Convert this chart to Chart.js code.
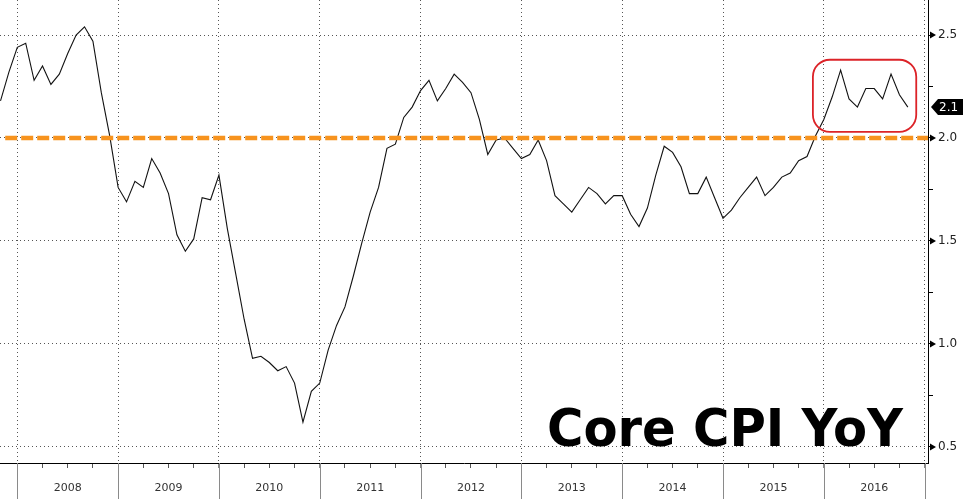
<!DOCTYPE html>
<html>
<head>
<meta charset="utf-8">
<script src="https://cdn.jsdelivr.net/npm/chart.js@4.4.0/dist/chart.umd.min.js"></script>
<style>
  html, body { margin: 0; padding: 0; background: #fff; }
  #wrap { width: 963px; height: 499px; }
</style>
</head>
<body>
<div id="wrap"><canvas id="cpiChart" width="963" height="499"></canvas></div>
<script>
// Core CPI YoY, monthly, Oct 2007 .. Oct 2016
const coreCpi = [
    2.18, 2.32, 2.44, 2.46, 2.28, 2.35, 2.26, 2.31, 2.41, 2.50, 2.54, 2.47,
    2.22, 2.01, 1.76, 1.69, 1.79, 1.76, 1.90, 1.83, 1.73, 1.53, 1.45, 1.51,
    1.71, 1.70, 1.82, 1.56, 1.34, 1.12, 0.93, 0.94, 0.91, 0.87, 0.89, 0.81,
    0.62, 0.77, 0.81, 0.97, 1.09, 1.18, 1.33, 1.49, 1.64, 1.76, 1.95, 1.97,
    2.10, 2.15, 2.23, 2.28, 2.18, 2.24, 2.31, 2.27, 2.22, 2.09, 1.92, 1.99,
    2.00, 1.95, 1.90, 1.92, 1.99, 1.89, 1.72, 1.68, 1.64, 1.70, 1.76, 1.73,
    1.68, 1.72, 1.72, 1.63, 1.57, 1.66, 1.82, 1.96, 1.93, 1.86, 1.73, 1.73,
    1.81, 1.71, 1.61, 1.65, 1.71, 1.76, 1.81, 1.72, 1.76, 1.81, 1.83, 1.89,
    1.91, 2.01, 2.09, 2.20, 2.33, 2.19, 2.15, 2.24, 2.24, 2.19, 2.31, 2.21,
    2.15
];
const years = ['2008', '2009', '2010', '2011', '2012', '2013', '2014', '2015', '2016'];
const targetRate = 2.0;
const yTicks = [0.5, 0.75, 1.0, 1.25, 1.5, 1.75, 2.0, 2.25, 2.5];
const caption = 'Core CPI YoY';

// month index of the first year boundary (data starts two months before 2008)
const yearStart = 2;
const isYearEdge = v => (v - yearStart) % 12 === 0;
const isMidYear = v => (v - yearStart) % 12 === 6;
const isMajorY = v => v !== undefined && Math.abs(v * 2 - Math.round(v * 2)) < 1e-9;

const xTicks = [];
for (let m = 0; m <= years.length * 12; m += 3) xTicks.push(yearStart + m);

// red box round the last months, in data units
const highlight = { x0: 96.7, x1: 109.0, y0: 2.03, y1: 2.38 };

// no extra room for the labels: the plot runs right up to the top edge
function noPadding(axis) {
    axis.paddingTop = 0;
    axis.paddingBottom = 0;
    axis.paddingLeft = 0;
    axis.paddingRight = 0;
}

const decorations = {
    id: 'decorations',
    afterDatasetsDraw(chart) {
        const { ctx, scales: { x, y } } = chart;
        // highlight box
        const l = x.getPixelForValue(highlight.x0), r = x.getPixelForValue(highlight.x1);
        const t = y.getPixelForValue(highlight.y1), b = y.getPixelForValue(highlight.y0);
        ctx.save();
        ctx.strokeStyle = '#dc2328';
        ctx.lineWidth = 1.8;
        ctx.beginPath();
        ctx.roundRect(l, t, r - l, b - t, 17);
        ctx.stroke();
        ctx.restore();
    },
    afterDraw(chart) {
        const { ctx, chartArea, scales: { x, y } } = chart;
        ctx.save();
        // year separators under the axis
        ctx.strokeStyle = '#8a8a8a';
        ctx.lineWidth = 1;
        x.ticks.forEach(t => {
            if (!isYearEdge(t.value)) return;
            const px = Math.round(x.getPixelForValue(t.value)) + 0.5;
            ctx.beginPath();
            ctx.moveTo(px, chartArea.bottom);
            ctx.lineTo(px, chart.height);
            ctx.stroke();
        });
        // triangles on major y ticks
        ctx.fillStyle = '#000';
        y.ticks.forEach(t => {
            if (!isMajorY(t.value)) return;
            const py = y.getPixelForValue(t.value);
            ctx.beginPath();
            ctx.moveTo(chartArea.right + 2, py - 3.5);
            ctx.lineTo(chartArea.right + 8, py);
            ctx.lineTo(chartArea.right + 2, py + 3.5);
            ctx.closePath();
            ctx.fill();
        });
        // last value tag
        const last = coreCpi[coreCpi.length - 1];
        const ly = y.getPixelForValue(last);
        const tx = chartArea.right + 3;
        ctx.beginPath();
        ctx.moveTo(tx, ly);
        ctx.lineTo(tx + 7, ly - 8);
        ctx.lineTo(chart.width, ly - 8);
        ctx.lineTo(chart.width, ly + 8);
        ctx.lineTo(tx + 7, ly + 8);
        ctx.closePath();
        ctx.fill();
        ctx.fillStyle = '#fff';
        ctx.font = '12px "DejaVu Sans"';
        ctx.textBaseline = 'middle';
        ctx.fillText(last.toFixed(1), tx + 8, ly + 1);
        // caption
        ctx.fillStyle = '#000';
        ctx.font = 'bold 52px "DejaVu Sans"';
        ctx.textBaseline = 'alphabetic';
        ctx.fillText(caption, 547, 446, 356);
        ctx.restore();
    }
};

new Chart(document.getElementById('cpiChart'), {
    type: 'line',
    data: {
        datasets: [
            {
                label: 'Target',
                data: [{ x: 0.56, y: targetRate }, { x: 110.4, y: targetRate }],
                borderColor: '#f7931e',
                borderWidth: 4.5,
                borderDash: [12, 4],
                pointRadius: 0,
                order: 0
            },
            {
                label: caption,
                data: coreCpi.map((v, i) => ({ x: i, y: v })),
                borderColor: '#111',
                borderWidth: 1.1,
                pointRadius: 0,
                tension: 0,
                order: 1
            }
        ]
    },
    options: {
        responsive: false,
        animation: false,
        devicePixelRatio: 1,
        layout: { padding: 0 },
        plugins: { legend: { display: false }, tooltip: { enabled: false } },
        scales: {
            x: {
                type: 'linear',
                position: 'bottom',
                min: -0.06,
                max: 110.4,
                afterBuildTicks: axis => { axis.ticks = xTicks.map(v => ({ value: v })); },
                afterFit: axis => { axis.height = 36; noPadding(axis); },
                grid: {
                    color: c => (c.tick && isYearEdge(c.tick.value)) ? '#555' : 'rgba(0,0,0,0)',
                    tickColor: c => (c.tick && isYearEdge(c.tick.value)) ? '#8a8a8a' : '#555',
                    tickLength: 5,
                    lineWidth: 1
                },
                border: { color: '#000', width: 1, dash: [1, 3] },
                ticks: {
                    autoSkip: false,
                    maxRotation: 0,
                    padding: 14,
                    color: '#333',
                    font: { family: 'DejaVu Sans', size: 11 },
                    callback: v => isMidYear(v) ? years[(v - yearStart - 6) / 12] : ''
                }
            },
            y: {
                type: 'linear',
                position: 'right',
                min: 0.422,
                max: 2.67,
                afterBuildTicks: axis => { axis.ticks = yTicks.map(v => ({ value: v })); },
                afterFit: axis => { axis.width = 35; noPadding(axis); },
                grid: {
                    color: c => (c.tick && isMajorY(c.tick.value)) ? '#555' : 'rgba(0,0,0,0)',
                    tickColor: '#000',
                    tickLength: 5,
                    lineWidth: 1
                },
                border: { color: '#000', width: 1, dash: [1, 3] },
                ticks: {
                    padding: 5,
                    color: '#222',
                    font: { family: 'DejaVu Sans', size: 12 },
                    callback: v => isMajorY(v) ? v.toFixed(1) : ''
                }
            }
        }
    },
    plugins: [decorations]
});
</script>
</body>
</html>
